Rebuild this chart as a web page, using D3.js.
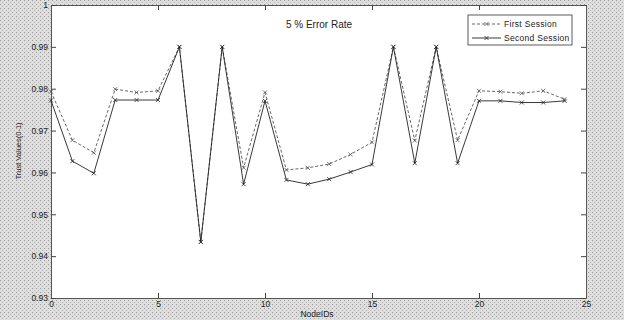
<!DOCTYPE html>
<html>
<head>
<meta charset="utf-8">
<script src="https://cdn.jsdelivr.net/npm/d3@7"></script>
<style>
  body { margin: 0; background: #fff; }
  svg text { font-family: "Liberation Sans", Arial, sans-serif; fill: #222; }
</style>
</head>
<body>
<div id="chart"></div>
<script>
// data
const nodeIds = [0, 1, 2, 3, 4, 5, 6, 7, 8, 9, 10, 11, 12, 13, 14, 15, 16, 17, 18, 19, 20, 21, 22, 23, 24];
const firstSession = [0.9793, 0.9677, 0.9647, 0.9799, 0.9791, 0.9795, 0.9900, 0.9434, 0.9900, 0.9611,
  0.9791, 0.9606, 0.9611, 0.9620, 0.9643, 0.9672, 0.9900, 0.9676, 0.9900, 0.9677,
  0.9795, 0.9793, 0.9789, 0.9795, 0.9775];
const secondSession = [0.9772, 0.9627, 0.9598, 0.9773, 0.9773, 0.9773, 0.9900, 0.9434, 0.9900, 0.9572,
  0.9771, 0.9582, 0.9572, 0.9584, 0.9601, 0.9619, 0.9900, 0.9622, 0.9900, 0.9622,
  0.9771, 0.9771, 0.9767, 0.9767, 0.9771];
const xTicks = [0, 5, 10, 15, 20, 25];
const yTicks = [0.93, 0.94, 0.95, 0.96, 0.97, 0.98, 0.99, 1];
const seriesNames = ["First Session", "Second Session"];

const width = 624, height = 320;
const margin = { top: 5, right: 38, bottom: 22, left: 51 };
const w = width - margin.left - margin.right;
const h = height - margin.top - margin.bottom;

const svg = d3.select("#chart").append("svg")
  .attr("width", width)
  .attr("height", height);

// speckled grey figure background
const defs = svg.append("defs");
const pat = defs.append("pattern")
  .attr("id", "speckle")
  .attr("width", 4).attr("height", 4)
  .attr("patternUnits", "userSpaceOnUse");
pat.append("rect").attr("width", 4).attr("height", 4).attr("fill", "#dedede");
pat.append("rect").attr("x", 0).attr("y", 0).attr("width", 1).attr("height", 1).attr("fill", "#9a9a9a");
pat.append("rect").attr("x", 2).attr("y", 2).attr("width", 1).attr("height", 1).attr("fill", "#b4b4b4");

svg.append("rect")
  .attr("width", width).attr("height", height)
  .attr("fill", "url(#speckle)");

const g = svg.append("g")
  .attr("transform", `translate(${margin.left},${margin.top})`);

g.append("rect")
  .attr("width", w).attr("height", h)
  .attr("fill", "#fff");

const x = d3.scaleLinear().domain([0, 25]).range([0, w]);
const y = d3.scaleLinear().domain([0.93, 1]).range([h, 0]);

// axes, ticks pointing inward like matlab
function styleAxis(sel) {
  sel.selectAll(".domain").attr("stroke", "#555");
  sel.selectAll(".tick line").attr("stroke", "#444");
  sel.selectAll("text").attr("font-size", "8.5px").attr("fill", "#333")
    .attr("font-family", "'Liberation Sans', Arial, sans-serif");
}

g.append("g")
  .attr("transform", `translate(0,${h})`)
  .call(d3.axisBottom(x).tickValues(xTicks).tickSizeInner(-5).tickSizeOuter(0).tickPadding(3))
  .call(styleAxis);

g.append("g")
  .call(d3.axisTop(x).tickValues(xTicks).tickSizeInner(-5).tickSizeOuter(0).tickFormat(""))
  .call(styleAxis);

g.append("g")
  .call(d3.axisLeft(y).tickValues(yTicks).tickSizeInner(-5).tickSizeOuter(0).tickPadding(3)
    .tickFormat(d => String(+d.toFixed(2))))
  .call(styleAxis);

g.append("g")
  .attr("transform", `translate(${w},0)`)
  .call(d3.axisRight(y).tickValues(yTicks).tickSizeInner(-5).tickSizeOuter(0).tickFormat(""))
  .call(styleAxis);

// lines
const line = d3.line()
  .x((d, i) => x(nodeIds[i]))
  .y(d => y(d));

const series = [
  { name: seriesNames[0], values: firstSession, dash: "3,2", color: "#555" },
  { name: seriesNames[1], values: secondSession, dash: null, color: "#222" }
];

function drawMark(sel, cx, cy, color) {
  const s = 2;
  sel.append("path")
    .attr("d", `M${cx - s},${cy - s}L${cx + s},${cy + s}M${cx - s},${cy + s}L${cx + s},${cy - s}`)
    .attr("stroke", color)
    .attr("stroke-width", 0.8)
    .attr("fill", "none");
}

series.forEach(s => {
  g.append("path")
    .datum(s.values)
    .attr("d", line)
    .attr("fill", "none")
    .attr("stroke", s.color)
    .attr("stroke-width", 0.9)
    .attr("stroke-dasharray", s.dash);

  const mg = g.append("g");
  s.values.forEach((v, i) => drawMark(mg, x(nodeIds[i]), y(v), s.color));
});

// title
g.append("text")
  .attr("x", 268)
  .attr("y", 23)
  .attr("text-anchor", "middle")
  .attr("font-size", "10px")
  .attr("fill", "#333")
  .text("5 % Error Rate");

// axis labels
svg.append("text")
  .attr("x", 317)
  .attr("y", 317)
  .attr("text-anchor", "middle")
  .attr("font-size", "8.5px")
  .text("NodeIDs");

svg.append("text")
  .attr("transform", "translate(21,151) rotate(-90)")
  .attr("text-anchor", "middle")
  .attr("font-size", "7.5px")
  .text("Trust Values(0-1)");

// legend
const lg = svg.append("g").attr("transform", "translate(468,15)");
lg.append("rect")
  .attr("width", 104).attr("height", 30)
  .attr("fill", "#fff")
  .attr("stroke", "#333")
  .attr("stroke-width", 0.8);

series.forEach((s, i) => {
  const ly = 9 + i * 14;
  lg.append("line")
    .attr("x1", 4).attr("x2", 33)
    .attr("y1", ly).attr("y2", ly)
    .attr("stroke", s.color)
    .attr("stroke-width", 0.9)
    .attr("stroke-dasharray", s.dash);
  drawMark(lg, 18.5, ly, s.color);
  lg.append("text")
    .attr("x", 36)
    .attr("y", ly + 3)
    .attr("font-size", "8.5px")
    .attr("letter-spacing", "0.3px")
    .text(s.name);
});
</script>
</body>
</html>
